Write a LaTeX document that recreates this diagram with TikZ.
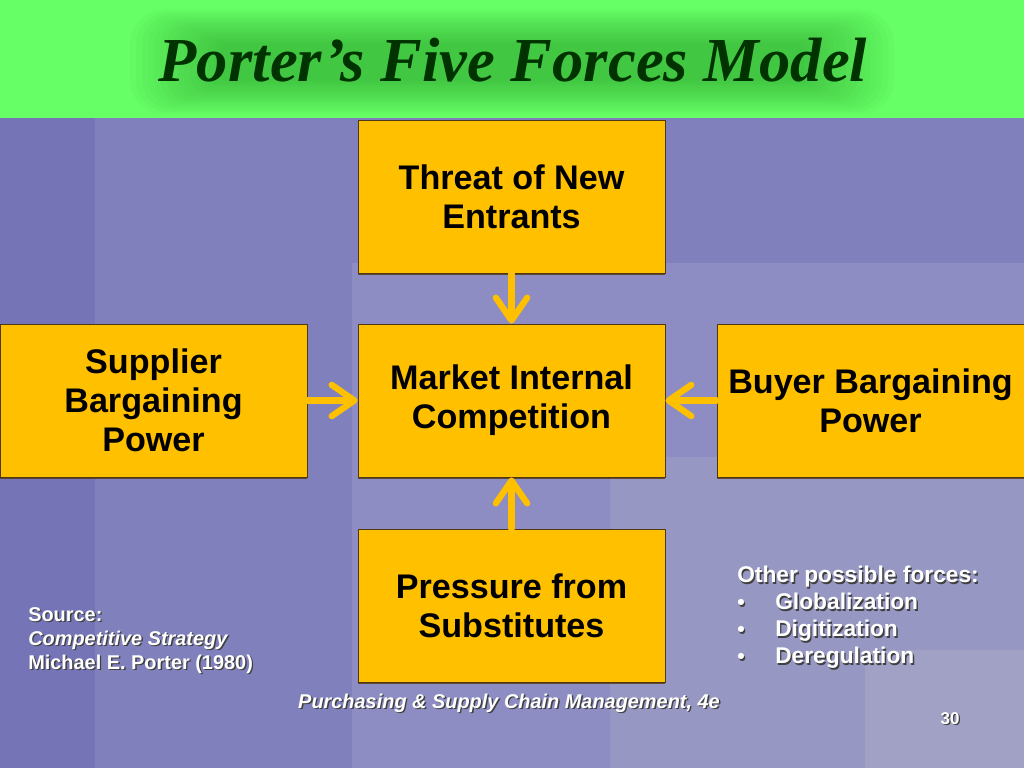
\documentclass[tikz,border=0pt]{standalone}
\usepackage{fontspec}
\setmainfont{Liberation Sans}
\newfontfamily\titlefont{Liberation Serif}
\usepackage{tikz}
\usetikzlibrary{arrows.meta,shadows}

\definecolor{bandgreen}{RGB}{102,255,102}
\definecolor{glowgreen}{RGB}{40,150,40}
\definecolor{titlegreen}{RGB}{0,51,0}
\definecolor{slate}{RGB}{128,128,189}
\definecolor{slatedark}{RGB}{116,116,182}
\definecolor{slatelight}{RGB}{141,141,195}
\definecolor{slatepale}{RGB}{151,151,196}
\definecolor{slatemist}{RGB}{161,161,197}
\definecolor{forcegold}{RGB}{255,192,0}
\definecolor{forceedge}{RGB}{80,55,20}

\newcommand{\shd}[1]{\makebox[0pt][l]{\color{black!75}\hspace{1pt}\raisebox{-1pt}{#1}}#1}
\newcommand{\dotitem}{\makebox[26.7pt][l]{\fontsize{15}{15}\selectfont•}}

\begin{document}
\begin{tikzpicture}[x=0.703125pt, y=-0.703125pt,
  force/.style={draw=forceedge, line width=0.6pt, fill=forcegold, minimum width=215.9pt, minimum height=107.6pt, align=center, text=black, font=\bfseries\fontsize{24}{27.6}\selectfont, drop shadow={shadow xshift=0.3pt, shadow yshift=-1.3pt, fill=forceedge, opacity=0.8}},
  push/.style={draw=forcegold, line width=4.4pt, line cap=round, -{Straight Barb[length=16pt, width=22pt, line cap=round, line join=round]}},
  note/.style={text=white, inner sep=0pt, font=\bfseries\fontsize{16}{19}\selectfont}]
\useasboundingbox (0,0) rectangle (1024,768);
%%%%% Background %%%%%
\fill[slate] (0,118) rectangle (1024,768);
\fill[slatedark] (0,118) rectangle (95,768);
\fill[slatelight] (352,263) rectangle (1024,768);
\fill[slatepale] (610,457) rectangle (1024,768);
\fill[slatemist] (865,650) rectangle (1024,768);
\fill[bandgreen] (0,0) rectangle (1024,118);
\foreach \k [evaluate=\k as \r using 24-1.3*\k] in {0,...,15}{
\fill[glowgreen, opacity=0.04, rounded corners=\r pt] (130+6*\k,10+2.2*\k) rectangle (894-6*\k,114-2.2*\k);
}
\node[font=\titlefont\bfseries\itshape\fontsize{44}{50}\selectfont, text=titlegreen, anchor=base] (title) at (513,82) {Porter’s Five Forces Model};

%%%%% Forces %%%%%
\node[force] (entrants) at (511.5,196.5) {Threat of New\\Entrants};
\node[force] (rivalry) at (511.5,400.5) {Market Internal\\Competition};
\node[force] (supplier) at (153.5,400.5) {Supplier\\Bargaining\\Power};
\node[force] (buyer) at (870.5,400.5) {Buyer Bargaining\\Power};
\node[force] (substitutes) at (511.5,605.5) {Pressure from\\Substitutes};

\draw[push] (entrants) -- (rivalry);
\draw[push] (supplier) -- (rivalry);
\draw[push] (buyer) -- (rivalry);
\draw[push] (substitutes) -- (rivalry);

%%%%% Notes %%%%%
\node[note, anchor=north west, align=left, font=\bfseries\fontsize{14}{16.9}\selectfont] (source) at (28,607)
  {\shd{Source:}\\\shd{\itshape Competitive Strategy}\\\shd{Michael E. Porter (1980)}};
\node[note, anchor=north west, align=left] (others) at (737,566)
  {\shd{Other possible forces:}\\
   \shd{\dotitem Globalization}\\
   \shd{\dotitem Digitization}\\
   \shd{\dotitem Deregulation}};
\node[note, anchor=base, font=\bfseries\itshape\fontsize{14}{17}\selectfont] (book) at (509,708) {\shd{Purchasing \& Supply Chain Management, 4e}};
\node[note, anchor=base, font=\bfseries\fontsize{12}{14}\selectfont] (page) at (950,724) {\shd{30}};
\end{tikzpicture}
\end{document}
